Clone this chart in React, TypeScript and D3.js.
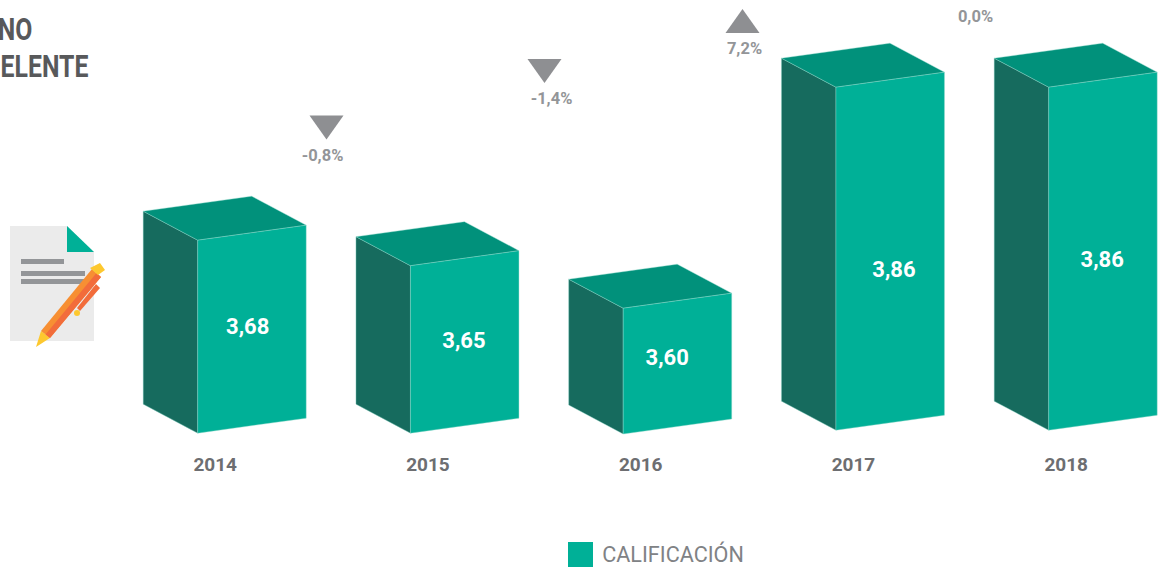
import * as d3 from "d3";
import React, { useEffect, useRef } from "react";

const years = ["2014", "2015", "2016", "2017", "2018"];
const scores = [3.68, 3.65, 3.6, 3.86, 3.86];
const baseValues = [3.453, 3.453, 3.452, 3.4565, 3.4565];
const scoreLabels = ["3,68", "3,65", "3,60", "3,86", "3,86"];
const changeLabels = ["-0,8%", "-1,4%", "7,2%", "0,0%"];
const changeDirections = ["down", "down", "up", "flat"];
const titleLines = ["NO", "ELENTE"];
const legendLabel = "CALIFICACIÓN";

const width = 1167;
const height = 568;

// box shape, px
const depthX = 54.5;
const depthY = 29;
const frontW = 108.5;
const slant = 15;

// hand placed bits, the labels don't sit on the face centres in the original
const labelNudge = [
  { dx: 50, y: 326 },
  { dx: 53.5, y: 340 },
  { dx: 44, y: 357 },
  { dx: 58, y: 269 },
  { dx: 53.5, y: 259 },
];
const changeSpots = [
  { x: 326.5, y: 127.5, textX: 322.5, textY: 155.5 },
  { x: 544.5, y: 71, textX: 551.5, textY: 98.5 },
  { x: 742.5, y: 21, textX: 744.5, textY: 48.5 },
  { x: 975.5, y: 0, textX: 975.5, textY: 16.5 },
];

const App = () => {
  const svgRef = useRef<SVGSVGElement>(null);

  useEffect(() => {
    const svg = d3.select(svgRef.current);
    svg.selectAll("*").remove(); // Clear previous chart

    const x = d3.scalePoint<string>().domain(years).range([143.2, 994.2]);
    const y = d3.scaleLinear().domain([3.6, 3.86]).range([308.2, 87.2]);
    const line = d3.line();

    // Title, cut off at the left edge
    const title = svg.append("g").attr("transform", "scale(0.8,1)");
    title.selectAll("text")
      .data(titleLines)
      .enter()
      .append("text")
      .attr("x", (d, i) => (i === 0 ? 40.5 : 110.5))
      .attr("y", (d, i) => 40.5 + i * 37)
      .attr("text-anchor", "end")
      .attr("font-family", "Roboto")
      .attr("font-weight", 700)
      .attr("font-size", 31)
      .attr("fill", "#58595b")
      .text((d) => d);

    // Bars
    const bars = svg.selectAll(".bar")
      .data(years)
      .enter()
      .append("g")
      .attr("class", "bar");

    const edge = { stroke: "#8fd8cb", "stroke-width": 0.4, "stroke-linejoin": "round" };

    bars.each(function (year, i) {
      const g = d3.select(this);
      const left = x(year)!;
      const fx = left + depthX;
      const top = y(scores[i]);
      const base = y(baseValues[i]);

      const faces: [string, [number, number][]][] = [
        ["#166b5e", [[left, top - depthY], [fx, top], [fx, base], [left, base - depthY]]],
        ["#01917b", [[left, top - depthY], [left + frontW, top - depthY - slant], [fx + frontW, top - slant], [fx, top]]],
        ["#00b097", [[fx, top], [fx + frontW, top - slant], [fx + frontW, base - slant], [fx, base]]],
      ];
      faces.forEach(([fill, pts]) => {
        const p = g.append("path").attr("d", line(pts) + "Z").attr("fill", fill);
        Object.entries(edge).forEach(([k, v]) => p.attr(k, v));
      });

      g.append("text")
        .attr("x", left + labelNudge[i].dx + depthX)
        .attr("y", labelNudge[i].y)
        .attr("dy", "0.36em")
        .attr("text-anchor", "middle")
        .attr("font-family", "Roboto")
        .attr("font-weight", 700)
        .attr("font-size", 22)
        .attr("fill", "#ffffff")
        .text(scoreLabels[i]);

      g.append("text")
        .attr("x", left + 72)
        .attr("y", 464)
        .attr("dy", "0.36em")
        .attr("text-anchor", "middle")
        .attr("font-family", "Roboto")
        .attr("font-weight", 700)
        .attr("font-size", 19)
        .attr("fill", "#6d6e71")
        .text(year);
    });

    // Year on year change markers
    changeLabels.forEach((label, i) => {
      const s = changeSpots[i];
      const dir = changeDirections[i];
      if (dir !== "flat") {
        const h = dir === "down" ? 12 : -12;
        const pts: [number, number][] = [[s.x - 17, s.y - h], [s.x + 17, s.y - h], [s.x, s.y + h]];
        svg.append("path").attr("d", line(pts) + "Z").attr("fill", "#8e8f92");
      }
      svg.append("text")
        .attr("x", s.textX)
        .attr("y", s.textY)
        .attr("dy", "0.36em")
        .attr("text-anchor", "middle")
        .attr("font-family", "Roboto")
        .attr("font-weight", 700)
        .attr("font-size", 16.5)
        .attr("fill", "#939598")
        .text(label);
    });

    // Document icon
    const icon = svg.append("g");
    const poly = (pts: [number, number][], fill: string) =>
      icon.append("path").attr("d", line(pts) + "Z").attr("fill", fill);
    poly([[10, 226], [67, 226], [94, 252], [94, 341], [10, 341]], "#ebebeb");
    poly([[67, 226], [94, 252], [67, 252]], "#00b097");
    poly([[21, 259], [64, 259], [64, 264], [21, 264]], "#939598");
    poly([[21, 271], [85, 271], [85, 276], [21, 276]], "#939598");
    poly([[21, 279], [85, 279], [85, 284], [21, 284]], "#939598");
    poly([[36, 347], [41, 331], [50, 338]], "#fdc82f");
    poly([[41, 331], [92, 269], [101, 277], [50, 338]], "#f78f33");
    poly([[45.5, 334.5], [96.5, 273], [101, 277], [50, 338]], "#f26c3b");
    poly([[90, 268], [100, 263], [105, 270], [98, 275]], "#fdc82f");
    poly([[96, 284], [100, 288], [80, 311], [77, 308]], "#f26c3b");
    icon.append("circle").attr("cx", 77).attr("cy", 313).attr("r", 3).attr("fill", "#fdc82f");

    // Legend
    svg.append("rect")
      .attr("x", 568).attr("y", 542).attr("width", 25).attr("height", 25)
      .attr("fill", "#00b097");
    svg.append("text")
      .attr("x", 602.2)
      .attr("y", 554)
      .attr("dy", "0.36em")
      .attr("font-family", "Roboto")
      .attr("font-size", 21.6)
      .attr("fill", "#808285")
      .text(legendLabel);
  }, []);

  return (
    <svg
      ref={svgRef}
      width={width}
      height={height}
      style={{ position: "absolute", left: 0, top: 0, background: "#ffffff" }}
    />
  );
};

export default App;
